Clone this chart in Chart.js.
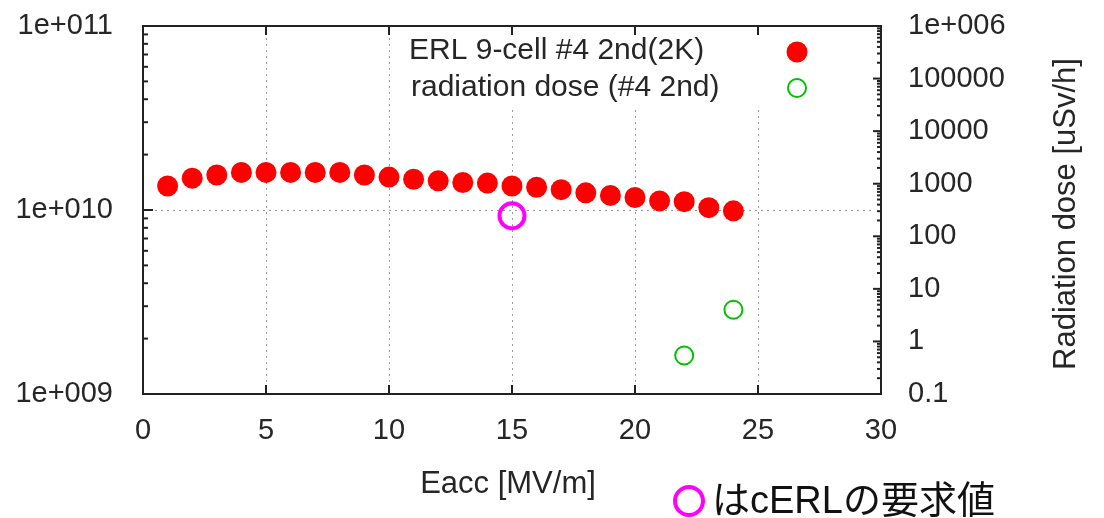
<!DOCTYPE html>
<html>
<head>
<meta charset="utf-8">
<script src="https://cdn.jsdelivr.net/npm/chart.js@4/dist/chart.umd.min.js"></script>
<style>
  html, body { margin: 0; padding: 0; background: #fff; }
  #wrap { width: 1104px; height: 518px; }
</style>
</head>
<body>
<div id="wrap"><canvas id="chart" width="1104" height="518"></canvas></div>
<script>
// Q0 vs Eacc (left axis)
const eacc = [1, 2, 3, 4, 5, 6, 7, 8, 9, 10, 11, 12, 13, 14, 15, 16, 17, 18, 19, 20, 21, 22, 23, 24];
const q0 = [1.35e10, 1.49e10, 1.55e10, 1.60e10, 1.60e10, 1.60e10, 1.60e10, 1.60e10, 1.55e10, 1.51e10,
            1.47e10, 1.44e10, 1.41e10, 1.40e10, 1.35e10, 1.33e10, 1.29e10, 1.24e10, 1.20e10, 1.17e10,
            1.12e10, 1.11e10, 1.03e10, 0.99e10];

// radiation dose (right axis)
const doseEacc = [22, 24];
const dose = [0.54, 4.0];

// cERL requirement
const reqEacc = [15];
const reqQ0 = [9.3e9];

// axes
const xTicks = [0, 5, 10, 15, 20, 25, 30];
const leftTicks = [1e9, 1e10, 1e11];
const leftTickLabels = ['1e+009', '1e+010', '1e+011'];
const rightTicks = [0.1, 1, 10, 100, 1000, 10000, 100000, 1e6];
const rightTickLabels = ['0.1', '1', '10', '100', '1000', '10000', '100000', '1e+006'];

const legendLabels = ['ERL 9-cell #4 2nd(2K)', 'radiation dose (#4 2nd)'];
const xTitle = 'Eacc [MV/m]';
const y2Title = 'Radiation dose [uSv/h]';
const noteText = 'はcERLの要求値';

const FONT = '"Liberation Sans", Arial, sans-serif';
const TEXT = '#262626';
const RED = '#ff0000';
const GREEN = '#00c000';
const MAGENTA = '#ff00ff';

function line(ctx, x1, y1, x2, y2) {
    ctx.beginPath();
    ctx.moveTo(x1, y1);
    ctx.lineTo(x2, y2);
    ctx.stroke();
}

// y scales: no extra top/bottom padding from tick padding
function fixY(width) {
    return s => {
        s.width = width;
        s.paddingTop = 0;
        s.paddingBottom = 0;
    };
}

// gnuplot-like frame, inward ticks, dotted grid, legend
const decor = {
    id: 'decor',
    beforeDatasetsDraw(chart) {
        const { ctx, chartArea: a, scales } = chart;
        const x = scales.x, yl = scales.y, yr = scales.y2;
        ctx.save();

        // grid
        ctx.strokeStyle = '#9a9a9a';
        ctx.lineWidth = 1;
        ctx.setLineDash([2, 4]);
        [5, 10, 15, 20, 25].forEach(v => {
            const px = Math.round(x.getPixelForValue(v)) + 0.5;
            line(ctx, px, a.top, px, a.bottom);
        });
        const gy = Math.round(yl.getPixelForValue(1e10)) + 0.5;
        line(ctx, a.left, gy, a.right - 10, gy);
        ctx.setLineDash([]);

        // legend box (opaque)
        ctx.fillStyle = '#fff';
        ctx.fillRect(x.getPixelForValue(10.2), a.top + 1, a.right - x.getPixelForValue(10.2) - 2, 80);

        // frame
        ctx.strokeStyle = '#222';
        ctx.lineWidth = 2;
        ctx.strokeRect(a.left, a.top, a.right - a.left, a.bottom - a.top);

        // x ticks (bottom and top)
        [5, 10, 15, 20, 25].forEach(v => {
            const px = x.getPixelForValue(v);
            line(ctx, px, a.bottom, px, a.bottom - 9);
            line(ctx, px, a.top, px, a.top + 9);
        });

        // left log ticks
        for (let d = 9; d <= 11; d++) {
            const py = yl.getPixelForValue(Math.pow(10, d));
            line(ctx, a.left, py, a.left + 10, py);
            if (d < 11) {
                for (let k = 2; k <= 9; k++) {
                    const pm = yl.getPixelForValue(k * Math.pow(10, d));
                    line(ctx, a.left, pm, a.left + 5, pm);
                }
            }
        }
        // right log ticks
        for (let d = -1; d <= 6; d++) {
            const py = yr.getPixelForValue(Math.pow(10, d));
            line(ctx, a.right, py, a.right - 8, py);
            if (d < 6) {
                for (let k = 2; k <= 9; k++) {
                    const pm = yr.getPixelForValue(k * Math.pow(10, d));
                    line(ctx, a.right, pm, a.right - 4, pm);
                }
            }
        }

        // legend
        ctx.font = '30px ' + FONT;
        ctx.fillStyle = TEXT;
        ctx.textAlign = 'left';
        ctx.textBaseline = 'middle';
        const tx = a.right - 472, sx = a.right - 84;
        ctx.fillText(legendLabels[0], tx, a.top + 25);
        ctx.fillText(legendLabels[1], tx + 2, a.top + 62);
        ctx.fillStyle = RED;
        ctx.beginPath();
        ctx.arc(sx, a.top + 26, 10.5, 0, Math.PI * 2);
        ctx.fill();
        ctx.strokeStyle = GREEN;
        ctx.lineWidth = 2;
        ctx.beginPath();
        ctx.arc(sx, a.top + 62, 9, 0, Math.PI * 2);
        ctx.stroke();

        ctx.restore();
    },
    afterDraw(chart) {
        const { ctx, chartArea: a } = chart;
        ctx.save();
        ctx.fillStyle = TEXT;
        ctx.font = '31px ' + FONT;
        ctx.textAlign = 'center';
        ctx.textBaseline = 'middle';
        ctx.fillText(xTitle, (a.left + a.right) / 2 - 4, 484);

        ctx.translate(1066, (a.top + a.bottom) / 2 + 4);
        ctx.rotate(-Math.PI / 2);
        ctx.fillText(y2Title, 0, 0);
        ctx.restore();

        // note at bottom
        ctx.save();
        ctx.strokeStyle = MAGENTA;
        ctx.lineWidth = 4;
        ctx.beginPath();
        ctx.arc(689, 501, 14, 0, Math.PI * 2);
        ctx.stroke();
        ctx.fillStyle = '#111';
        ctx.font = '38px "Liberation Sans", "Noto Sans CJK JP", sans-serif';
        ctx.textAlign = 'left';
        ctx.textBaseline = 'middle';
        ctx.fillText(noteText, 712, 503);
        ctx.restore();
    }
};

new Chart(document.getElementById('chart'), {
    type: 'scatter',
    data: {
        datasets: [
            {
                label: legendLabels[0],
                data: eacc.map((v, i) => ({ x: v, y: q0[i] })),
                yAxisID: 'y',
                pointStyle: 'circle',
                pointRadius: 10.5,
                pointBackgroundColor: RED,
                pointBorderWidth: 0,
                borderColor: RED
            },
            {
                label: legendLabels[1],
                data: doseEacc.map((v, i) => ({ x: v, y: dose[i] })),
                yAxisID: 'y2',
                pointStyle: 'circle',
                pointRadius: 9,
                pointBackgroundColor: 'rgba(0,0,0,0)',
                pointBorderColor: GREEN,
                pointBorderWidth: 2
            },
            {
                label: 'cERL',
                data: reqEacc.map((v, i) => ({ x: v, y: reqQ0[i] })),
                yAxisID: 'y',
                pointStyle: 'circle',
                pointRadius: 12.5,
                pointBackgroundColor: 'rgba(0,0,0,0)',
                pointBorderColor: MAGENTA,
                pointBorderWidth: 4
            }
        ]
    },
    options: {
        responsive: false,
        animation: false,
        layout: { padding: { top: 26, left: 0, right: 0, bottom: 0 } },
        plugins: { legend: { display: false }, tooltip: { enabled: false } },
        scales: {
            x: {
                type: 'linear',
                min: 0,
                max: 30,
                grid: { display: false, drawTicks: false },
                border: { display: false },
                afterBuildTicks: s => { s.ticks = xTicks.map(v => ({ value: v })); },
                afterFit: s => { s.height = 124; },
                ticks: {
                    autoSkip: false,
                    maxRotation: 0,
                    padding: 20,
                    color: TEXT,
                    font: { family: FONT, size: 29 }
                }
            },
            y: {
                type: 'logarithmic',
                position: 'left',
                min: 1e9,
                max: 1e11,
                grid: { display: false, drawTicks: false },
                border: { display: false },
                afterBuildTicks: s => { s.ticks = leftTicks.map(v => ({ value: v })); },
                afterFit: fixY(143),
                ticks: {
                    autoSkip: false,
                    padding: 30,
                    color: TEXT,
                    font: { family: FONT, size: 29 },
                    callback: v => leftTickLabels[leftTicks.indexOf(v)]
                }
            },
            y2: {
                type: 'logarithmic',
                position: 'right',
                min: 0.1,
                max: 1e6,
                grid: { display: false, drawTicks: false },
                border: { display: false },
                afterBuildTicks: s => { s.ticks = rightTicks.map(v => ({ value: v })); },
                afterFit: fixY(223),
                ticks: {
                    autoSkip: false,
                    padding: 27,
                    color: TEXT,
                    font: { family: FONT, size: 29 },
                    callback: v => rightTickLabels[rightTicks.indexOf(v)]
                }
            }
        }
    },
    plugins: [decor]
});
</script>
</body>
</html>
